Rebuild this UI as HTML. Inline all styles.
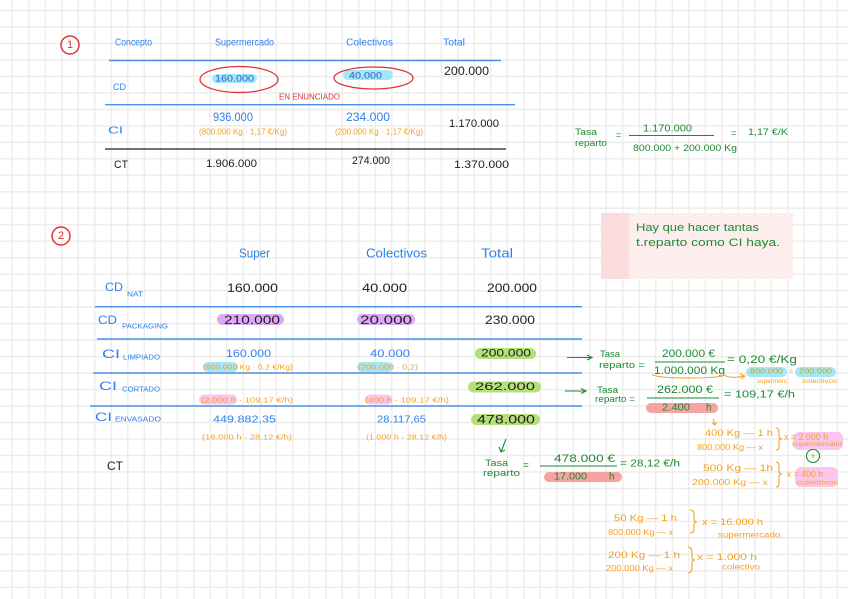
<!DOCTYPE html>
<html><head><meta charset="utf-8"><style>
html,body{margin:0;padding:0;background:#fff;}
svg{display:block;}
text{font-family:"Liberation Sans",sans-serif;dominant-baseline:central;}
.b{fill:#2f80ed}.k{fill:#1e1e1e}.o{fill:#f5a020}.g{fill:#1e8a30}.r{fill:#e03535}.db{fill:#2a5bd0}
</style></head><body>
<svg width="848" height="599" viewBox="0 0 848 599" xmlns="http://www.w3.org/2000/svg">
<defs>
<pattern id="grid" patternUnits="userSpaceOnUse" x="11.6" y="9.8" width="16.5" height="16.48">
<path d="M0 0.7 H16.5 M0.7 0 V16.48" stroke="#ebebeb" stroke-width="1.3" fill="none"/>
</pattern>
</defs>
<rect width="848" height="599" fill="#fff"/>
<rect width="848" height="599" fill="url(#grid)"/>

<!-- Section 1 -->
<circle cx="70" cy="45" r="9" fill="none" stroke="#e03535" stroke-width="1.5"/>
<text x="70" y="45" font-size="11" class="r" text-anchor="middle">1</text>
<text x="115" y="43" font-size="10" class="b" textLength="37" lengthAdjust="spacingAndGlyphs">Concepto</text>
<text x="215" y="43" font-size="10" class="b" textLength="59" lengthAdjust="spacingAndGlyphs">Supermercado</text>
<text x="346" y="43" font-size="10" class="b" textLength="47" lengthAdjust="spacingAndGlyphs">Colectivos</text>
<text x="443" y="43" font-size="10" class="b" textLength="22" lengthAdjust="spacingAndGlyphs">Total</text>
<line x1="109" y1="60.5" x2="501" y2="60.5" stroke="#4a90e8" stroke-width="1.4"/>
<rect x="212" y="74" width="45" height="9" rx="4.5" fill="#a3e8f7"/>
<ellipse cx="239" cy="79.5" rx="39" ry="13" fill="none" stroke="#e03535" stroke-width="1.3"/>
<text x="215" y="78.5" font-size="9" class="db" textLength="39" lengthAdjust="spacingAndGlyphs">160.000</text>
<rect x="343" y="70" width="50" height="10" rx="5" fill="#a3e8f7"/>
<ellipse cx="373.5" cy="78" rx="39.5" ry="11" fill="none" stroke="#e03535" stroke-width="1.3"/>
<text x="349" y="75.5" font-size="9" class="db" textLength="33" lengthAdjust="spacingAndGlyphs">40.000</text>
<text x="444" y="71" font-size="12" class="k" textLength="45" lengthAdjust="spacingAndGlyphs">200.000</text>
<text x="113" y="87" font-size="9" class="b" textLength="13" lengthAdjust="spacingAndGlyphs">CD</text>
<text x="279" y="97" font-size="8" class="r" textLength="61" lengthAdjust="spacingAndGlyphs">EN ENUNCIADO</text>
<line x1="105" y1="104.7" x2="515" y2="104.7" stroke="#4a90e8" stroke-width="1.4"/>
<text x="213" y="117" font-size="12" class="b" textLength="40" lengthAdjust="spacingAndGlyphs">936.000</text>
<text x="346" y="117" font-size="12" class="b" textLength="44" lengthAdjust="spacingAndGlyphs">234.000</text>
<text x="199" y="132" font-size="8" class="o" textLength="88" lengthAdjust="spacingAndGlyphs">(800.000 Kg · 1,17 €/Kg)</text>
<text x="335" y="132" font-size="8" class="o" textLength="88" lengthAdjust="spacingAndGlyphs">(200.000 Kg · 1,17 €/Kg)</text>
<text x="449" y="124" font-size="11" class="k" textLength="50" lengthAdjust="spacingAndGlyphs">1.170.000</text>
<text x="108" y="131" font-size="10" class="b" textLength="15" lengthAdjust="spacingAndGlyphs">CI</text>
<line x1="105" y1="149" x2="506" y2="149" stroke="#444" stroke-width="1.4"/>
<text x="114" y="165" font-size="11" class="k" textLength="14" lengthAdjust="spacingAndGlyphs">CT</text>
<text x="206" y="164" font-size="11" class="k" textLength="51" lengthAdjust="spacingAndGlyphs">1.906.000</text>
<text x="352" y="161" font-size="11" class="k" textLength="38" lengthAdjust="spacingAndGlyphs">274.000</text>
<text x="454" y="165" font-size="11" class="k" textLength="55" lengthAdjust="spacingAndGlyphs">1.370.000</text>

<!-- Right top -->
<text x="575" y="132" font-size="9" class="g" textLength="22" lengthAdjust="spacingAndGlyphs">Tasa</text>
<text x="575" y="143" font-size="9" class="g" textLength="32" lengthAdjust="spacingAndGlyphs">reparto</text>
<text x="616" y="135" font-size="9" class="g">=</text>
<text x="643" y="129" font-size="10" class="g" textLength="49" lengthAdjust="spacingAndGlyphs">1.170.000</text>
<line x1="629" y1="135.5" x2="714" y2="135.5" stroke="#1e8a30" stroke-width="1"/>
<text x="633" y="148" font-size="9" class="g" textLength="104" lengthAdjust="spacingAndGlyphs">800.000 + 200.000 Kg</text>
<text x="731" y="133" font-size="9" class="g">=</text>
<text x="748" y="132" font-size="9" class="g" textLength="40" lengthAdjust="spacingAndGlyphs">1,17 €/K</text>
<rect x="601" y="213" width="192" height="66" fill="#fdeeee"/>
<rect x="601" y="213" width="28" height="66" fill="#fbdcdc"/>
<text x="636" y="228" font-size="11" class="g" textLength="123" lengthAdjust="spacingAndGlyphs">Hay que hacer tantas</text>
<text x="636" y="243" font-size="11" class="g" textLength="144" lengthAdjust="spacingAndGlyphs">t.reparto como CI haya.</text>

<!-- Section 2 -->
<circle cx="61" cy="236" r="9" fill="none" stroke="#e03535" stroke-width="1.5"/>
<text x="61" y="236" font-size="11" class="r" text-anchor="middle">2</text>
<text x="239" y="253" font-size="13" class="b" textLength="31" lengthAdjust="spacingAndGlyphs">Super</text>
<text x="366" y="253" font-size="13" class="b" textLength="61" lengthAdjust="spacingAndGlyphs">Colectivos</text>
<text x="481" y="253" font-size="13" class="b" textLength="32" lengthAdjust="spacingAndGlyphs">Total</text>

<text x="105" y="287" font-size="12" class="b" textLength="18" lengthAdjust="spacingAndGlyphs">CD</text>
<text x="127" y="295" font-size="7" class="b" textLength="16" lengthAdjust="spacingAndGlyphs">NAT</text>
<text x="227" y="288" font-size="12" class="k" textLength="51" lengthAdjust="spacingAndGlyphs">160.000</text>
<text x="362" y="288" font-size="12" class="k" textLength="45" lengthAdjust="spacingAndGlyphs">40.000</text>
<text x="487" y="288" font-size="12" class="k" textLength="50" lengthAdjust="spacingAndGlyphs">200.000</text>
<line x1="95" y1="306.7" x2="582" y2="306.7" stroke="#4a90e8" stroke-width="1.4"/>

<text x="98" y="320" font-size="12" class="b" textLength="19" lengthAdjust="spacingAndGlyphs">CD</text>
<text x="122" y="327" font-size="7" class="b" textLength="46" lengthAdjust="spacingAndGlyphs">PACKAGING</text>
<rect x="217" y="314" width="67" height="11" rx="5.5" fill="#dcaaf5"/>
<text x="224" y="320" font-size="12" class="k" textLength="56" lengthAdjust="spacingAndGlyphs">210.000</text>
<rect x="357" y="314" width="58" height="11" rx="5.5" fill="#dcaaf5"/>
<text x="360" y="320" font-size="12" class="k" textLength="52" lengthAdjust="spacingAndGlyphs">20.000</text>
<text x="485" y="320" font-size="12" class="k" textLength="50" lengthAdjust="spacingAndGlyphs">230.000</text>
<line x1="97" y1="339" x2="582" y2="339" stroke="#4a90e8" stroke-width="1.4"/>

<text x="102" y="354" font-size="12" class="b" textLength="18" lengthAdjust="spacingAndGlyphs">CI</text>
<text x="123" y="358" font-size="7" class="b" textLength="37" lengthAdjust="spacingAndGlyphs">LIMPIADO</text>
<text x="226" y="354" font-size="11" class="b" textLength="45" lengthAdjust="spacingAndGlyphs">160.000</text>
<rect x="203" y="362" width="35" height="10" rx="5" fill="#a3e8f7"/>
<text x="203" y="367" font-size="7.5" class="o" textLength="90" lengthAdjust="spacingAndGlyphs">(800.000 Kg · 0,2 €/Kg)</text>
<text x="370" y="354" font-size="11" class="b" textLength="40" lengthAdjust="spacingAndGlyphs">40.000</text>
<rect x="357" y="362" width="36" height="10" rx="5" fill="#a3e8f7"/>
<text x="358" y="367" font-size="7.5" class="o" textLength="60" lengthAdjust="spacingAndGlyphs">(200.000 · 0,2)</text>
<rect x="475" y="348" width="61" height="11" rx="5.5" fill="#b3e07a"/>
<text x="481" y="353.5" font-size="11" class="k" textLength="50" lengthAdjust="spacingAndGlyphs">200.000</text>
<line x1="93" y1="373" x2="582" y2="373" stroke="#4a90e8" stroke-width="1.4"/>

<text x="99" y="386" font-size="12" class="b" textLength="18" lengthAdjust="spacingAndGlyphs">CI</text>
<text x="122" y="390" font-size="7" class="b" textLength="38" lengthAdjust="spacingAndGlyphs">CORTADO</text>
<rect x="468" y="381.5" width="73" height="11" rx="5.5" fill="#b3e07a"/>
<text x="475" y="387" font-size="11" class="k" textLength="60" lengthAdjust="spacingAndGlyphs">262.000</text>
<rect x="199" y="394.5" width="38" height="10" rx="5" fill="#fbc6ee"/>
<text x="201" y="400" font-size="7.5" class="o" textLength="92" lengthAdjust="spacingAndGlyphs">(2.000 h · 109,17 €/h)</text>
<rect x="365" y="394.5" width="27" height="10" rx="5" fill="#fbc6ee"/>
<text x="365" y="400" font-size="7.5" class="o" textLength="84" lengthAdjust="spacingAndGlyphs">(400 h · 109,17 €/h)</text>
<line x1="90" y1="406" x2="582" y2="406" stroke="#4a90e8" stroke-width="1.4"/>

<text x="95" y="417" font-size="12" class="b" textLength="17" lengthAdjust="spacingAndGlyphs">CI</text>
<text x="115" y="420" font-size="7" class="b" textLength="46" lengthAdjust="spacingAndGlyphs">ENVASADO</text>
<text x="213" y="420" font-size="10" class="b" textLength="63" lengthAdjust="spacingAndGlyphs">449.882,35</text>
<text x="377" y="420" font-size="10" class="b" textLength="49" lengthAdjust="spacingAndGlyphs">28.117,65</text>
<rect x="471" y="414" width="69" height="11" rx="5.5" fill="#b3e07a"/>
<text x="477" y="419.5" font-size="12" class="k" textLength="58" lengthAdjust="spacingAndGlyphs">478.000</text>
<text x="202" y="437" font-size="7.5" class="o" textLength="90" lengthAdjust="spacingAndGlyphs">(16.000 h · 28,12 €/h)</text>
<text x="366" y="437" font-size="7.5" class="o" textLength="81" lengthAdjust="spacingAndGlyphs">(1.000 h · 28,12 €/h)</text>
<text x="107" y="466" font-size="12" class="k" textLength="16" lengthAdjust="spacingAndGlyphs">CT</text>

<!-- check / arrow down -->
<path d="M506 439 L501 452 M499 447 L501 452 L505 450" stroke="#1e8a30" stroke-width="1.1" fill="none"/>

<!-- arrows -->
<path d="M567 357.5 H591 M587 355 L592 357.5 L587 360" stroke="#1e8a30" stroke-width="1.1" fill="none"/>
<path d="M565 391 H585 M581 388.5 L586 391 L581 393.5" stroke="#1e8a30" stroke-width="1.1" fill="none"/>

<!-- Tasa 1 (limpiado) -->
<text x="600" y="354" font-size="9" class="g" textLength="20" lengthAdjust="spacingAndGlyphs">Tasa</text>
<text x="599" y="365" font-size="9" class="g" textLength="46" lengthAdjust="spacingAndGlyphs">reparto =</text>
<text x="662" y="354" font-size="11" class="g" textLength="53" lengthAdjust="spacingAndGlyphs">200.000 €</text>
<line x1="655" y1="362" x2="725" y2="362" stroke="#1e8a30" stroke-width="1"/>
<text x="654" y="371" font-size="11" class="g" textLength="71" lengthAdjust="spacingAndGlyphs">1.000.000 Kg</text>
<path d="M652 374 Q654 378 690 378 Q720 378 724 375 Q730 379 744 376 M740 374 L745 376 L741 379" stroke="#f5a020" stroke-width="1" fill="none"/>
<text x="727" y="360" font-size="11" class="g" textLength="70" lengthAdjust="spacingAndGlyphs">= 0,20 €/Kg</text>
<rect x="746" y="367" width="41" height="10" rx="5" fill="#a3e8f7"/>
<text x="750" y="372" font-size="7" fill="#c8a020" textLength="33" lengthAdjust="spacingAndGlyphs">800.000</text>
<text x="789" y="372" font-size="7" class="o">=</text>
<rect x="795" y="367" width="41" height="10" rx="5" fill="#a3e8f7"/>
<text x="799" y="372" font-size="7" fill="#c8a020" textLength="33" lengthAdjust="spacingAndGlyphs">200.000</text>
<text x="757" y="382" font-size="6" class="o" textLength="30" lengthAdjust="spacingAndGlyphs">supermerc</text>
<text x="802" y="382" font-size="6" class="o" textLength="35" lengthAdjust="spacingAndGlyphs">colectivos</text>

<!-- Tasa 2 (cortado) -->
<text x="597" y="390" font-size="9" class="g" textLength="21" lengthAdjust="spacingAndGlyphs">Tasa</text>
<text x="595" y="399" font-size="9" class="g" textLength="40" lengthAdjust="spacingAndGlyphs">reparto =</text>
<text x="657" y="390" font-size="11" class="g" textLength="56" lengthAdjust="spacingAndGlyphs">262.000 €</text>
<line x1="647" y1="398" x2="719" y2="398" stroke="#1e8a30" stroke-width="1"/>
<rect x="646" y="403" width="72" height="10" rx="5" fill="#f5a3a3"/>
<text x="662" y="408" font-size="10" class="g" textLength="28" lengthAdjust="spacingAndGlyphs">2.400</text>
<text x="706" y="408" font-size="10" class="g">h</text>
<text x="724" y="395" font-size="10" class="g" textLength="71" lengthAdjust="spacingAndGlyphs">= 109,17 €/h</text>
<path d="M713 419 L715 425 M712 423 L715 425 L717 422" stroke="#f5a020" stroke-width="1" fill="none"/>

<!-- rule of three cortado -->
<text x="705" y="433" font-size="9" class="o" textLength="68" lengthAdjust="spacingAndGlyphs">400 Kg — 1 h</text>
<text x="697" y="447" font-size="8.5" class="o" textLength="66" lengthAdjust="spacingAndGlyphs">800.000 Kg — x</text>
<path d="M776 428 Q779 428 779 432 L779 436 Q779 439 782 439 Q779 439 779 442 L779 447 Q779 450 776 450" stroke="#f5a020" stroke-width="1.1" fill="none"/>
<rect x="793" y="432" width="50" height="18" rx="6" fill="#fbc6ee"/>
<text x="784" y="437" font-size="9" class="o" textLength="44" lengthAdjust="spacingAndGlyphs">x = 2.000 h</text>
<text x="792" y="445" font-size="6" class="o" textLength="50" lengthAdjust="spacingAndGlyphs">supermercado</text>
<circle cx="813" cy="456" r="6.5" fill="none" stroke="#1e8a30" stroke-width="1.1"/>
<text x="813" y="456" font-size="9" fill="#c8a020" text-anchor="middle">+</text>
<text x="703" y="468" font-size="9" class="o" textLength="70" lengthAdjust="spacingAndGlyphs">500 Kg — 1h</text>
<text x="692" y="482" font-size="8.5" class="o" textLength="76" lengthAdjust="spacingAndGlyphs">200.000 Kg — x</text>
<path d="M776 462 Q779 462 779 466 L779 471 Q779 474 782 474 Q779 474 779 477 L779 483 Q779 487 776 487" stroke="#f5a020" stroke-width="1.1" fill="none"/>
<rect x="795" y="467" width="43" height="20" rx="6" fill="#fbc6ee"/>
<text x="787" y="474" font-size="9" class="o" textLength="36" lengthAdjust="spacingAndGlyphs">x = 400 h</text>
<text x="797" y="483" font-size="6.5" class="o" textLength="41" lengthAdjust="spacingAndGlyphs">colectivos</text>

<!-- Tasa 3 (envasado) -->
<text x="485" y="463" font-size="9" class="g" textLength="23" lengthAdjust="spacingAndGlyphs">Tasa</text>
<text x="483" y="473" font-size="9" class="g" textLength="37" lengthAdjust="spacingAndGlyphs">reparto</text>
<text x="523" y="466" font-size="10" class="g">=</text>
<text x="554" y="459" font-size="11" class="g" textLength="61" lengthAdjust="spacingAndGlyphs">478.000 €</text>
<line x1="540" y1="466" x2="617" y2="466" stroke="#1e8a30" stroke-width="1"/>
<rect x="544" y="472" width="78" height="10" rx="5" fill="#f5a3a3"/>
<text x="554" y="477" font-size="10" class="g" textLength="33" lengthAdjust="spacingAndGlyphs">17.000</text>
<text x="609" y="477" font-size="10" class="g">h</text>
<text x="620" y="464" font-size="10" class="g" textLength="60" lengthAdjust="spacingAndGlyphs">= 28,12 €/h</text>

<!-- rule of three envasado -->
<text x="614" y="518" font-size="9" class="o" textLength="63" lengthAdjust="spacingAndGlyphs">50 Kg — 1 h</text>
<text x="608" y="532" font-size="8.5" class="o" textLength="65" lengthAdjust="spacingAndGlyphs">800.000 Kg — x</text>
<path d="M690 510 Q694 510 694 515 L694 519 Q694 522 697 522 Q694 522 694 525 L694 529 Q694 533 690 533" stroke="#f5a020" stroke-width="1.1" fill="none"/>
<text x="702" y="522" font-size="9" class="o" textLength="61" lengthAdjust="spacingAndGlyphs">x = 16.000 h</text>
<text x="718" y="535" font-size="8" class="o" textLength="65" lengthAdjust="spacingAndGlyphs">supermercado.</text>
<text x="608" y="555" font-size="9" class="o" textLength="72" lengthAdjust="spacingAndGlyphs">200 Kg — 1 h</text>
<text x="606" y="568" font-size="8.5" class="o" textLength="67" lengthAdjust="spacingAndGlyphs">200.000 Kg — x</text>
<path d="M688 547 Q692 547 692 552 L692 557 Q692 560 695 560 Q692 560 692 563 L692 568 Q692 573 688 573" stroke="#f5a020" stroke-width="1.1" fill="none"/>
<text x="697" y="557" font-size="9" class="o" textLength="60" lengthAdjust="spacingAndGlyphs">x = 1.000 h</text>
<text x="722" y="567" font-size="8" class="o" textLength="38" lengthAdjust="spacingAndGlyphs">colectivo</text>
</svg>
</body></html>
